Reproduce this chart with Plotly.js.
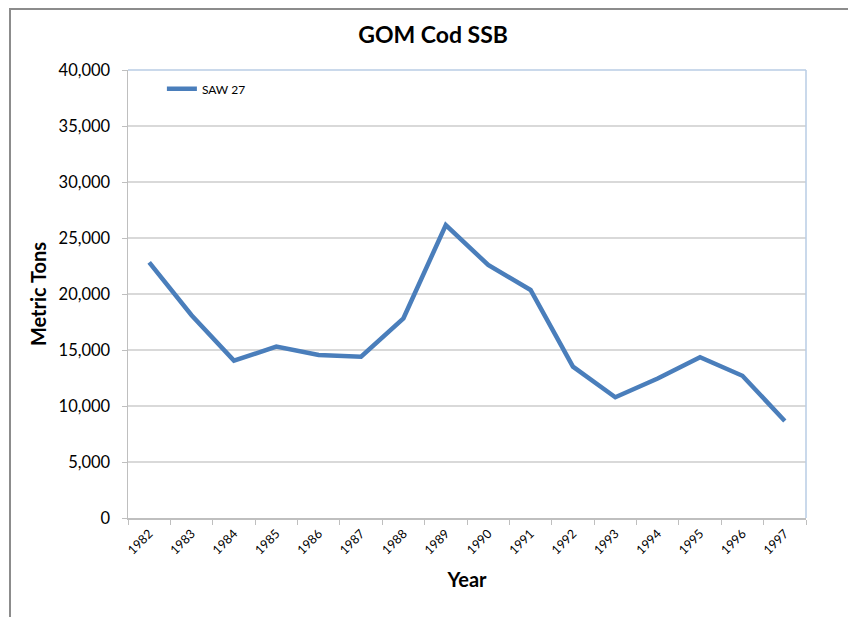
<!DOCTYPE html>
<html>
<head>
<meta charset="utf-8">
<script src="https://cdn.plot.ly/plotly-3.0.1.min.js"></script>
<style>
html,body{margin:0;padding:0;background:#fff;}
#chart{width:848px;height:617px;position:relative;}
#frame{position:absolute;left:9px;top:8px;width:860px;height:640px;border-left:2px solid #8c8c8c;border-top:2px solid #8c8c8c;pointer-events:none;z-index:5;}
</style>
</head>
<body>
<div id="chart"></div>
<div id="frame"></div>
<script>
const years = ['1982','1983','1984','1985','1986','1987','1988','1989','1990','1991','1992','1993','1994','1995','1996','1997'];
const saw27 = [22830, 18100, 14050, 15300, 14550, 14400, 17830, 26160, 22590, 20360, 13510, 10780, 12450, 14350, 12700, 8660];
const seriesName = 'SAW 27';
const yTicks = [0, 5000, 10000, 15000, 20000, 25000, 30000, 35000, 40000];
const yTickText = ['0', '5,000', '10,000', '15,000', '20,000', '25,000', '30,000', '35,000', '40,000'];

const font = 'Lato, "Open Sans", "DejaVu Sans", sans-serif';

const trace = {
  x: years, y: saw27, type: 'scatter', mode: 'lines', name: seriesName,
  line: {color: '#4a7ebb', width: 4.5}
};

const layout = {
  width: 848, height: 617,
  margin: {l: 128, r: 42, t: 70, b: 99},
  paper_bgcolor: '#fff', plot_bgcolor: '#fff',
  font: {family: font, color: '#000'},
  title: {text: '<b>GOM Cod SSB</b>', font: {size: 23, family: font, color: '#000'}, x: 0.45, xref: 'paper', xanchor: 'center', y: 0.943, yanchor: 'middle'},
  showlegend: true,
  legend: {x: 0.05, y: 0.958, xanchor: 'left', yanchor: 'middle', font: {size: 12, family: font}, bgcolor: 'rgba(0,0,0,0)', itemwidth: 30, tracegroupgap: 0},
  xaxis: {
    type: 'category', tickson: 'boundaries', ticks: 'outside', ticklen: 5, tickcolor: '#bfbfbf',
    showline: true, linecolor: '#bfbfbf', linewidth: 1.5, showgrid: false, zeroline: false,
    tickangle: -45, tickfont: {size: 12.5, family: font}, ticklabelstandoff: 2,
    title: {text: '<b>Year</b>', font: {size: 20, family: font}, standoff: 16},
    range: [-0.5, 15.5]
  },
  yaxis: {
    range: [0, 40000], tickvals: yTicks, ticktext: yTickText, ticks: 'outside', ticklen: 5, tickcolor: '#bfbfbf',
    showline: true, linecolor: '#bfbfbf', linewidth: 1.5, showgrid: true, gridcolor: '#d9d9d9', gridwidth: 1.5, zeroline: false,
    tickfont: {size: 16.5, family: font}, ticklabelstandoff: 8,
    title: {text: '<b>Metric Tons</b>', font: {size: 20, family: font}, standoff: 6}
  },
  shapes: [
    {type: 'line', xref: 'paper', yref: 'paper', x0: 0, x1: 1, y0: 1, y1: 1, line: {color: '#b9cde5', width: 1.5}},
    {type: 'line', xref: 'paper', yref: 'paper', x0: 1, x1: 1, y0: 0, y1: 1, line: {color: '#b9cde5', width: 1.5}}
  ]
};

Plotly.newPlot('chart', [trace], layout, {displayModeBar: false, staticPlot: true});
</script>
</body>
</html>
